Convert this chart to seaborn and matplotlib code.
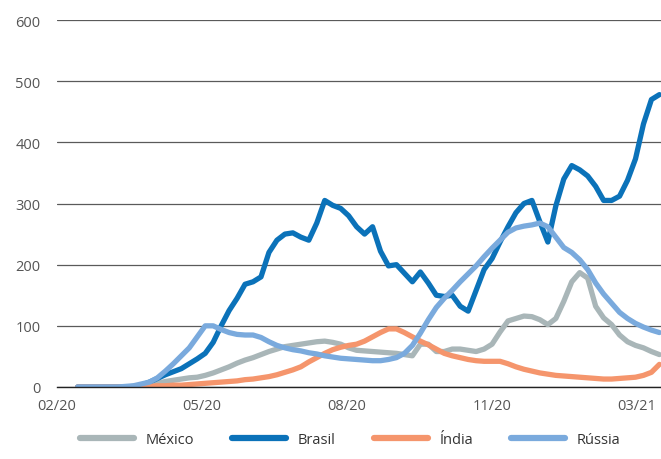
import pandas as pd
import matplotlib
matplotlib.use("Agg")
import matplotlib.pyplot as plt
import seaborn as sns

# ------------------------------
# Data (one point every 5 days)
# ------------------------------
start = "2020-02-14"
step_days = 5

mexico = [0, 0, 0, 0, 0, 0, 0, 0, 1, 3, 6, 9, 11, 13, 15, 16, 19, 23, 28, 33,
          39, 44, 48, 53, 58, 62, 66, 68, 70, 72, 74, 75, 73, 70, 64, 60, 59, 58, 57, 56,
          55, 53, 51, 70, 70, 58, 58, 62, 62, 60, 58, 62, 70, 90, 108, 112, 116, 115, 110, 102,
          112, 140, 172, 187, 178, 132, 113, 102, 85, 74, 68, 64, 58, 53]

brasil = [0, 0, 0, 0, 0, 0, 0, 1, 3, 8, 14, 20, 25, 30, 38, 46, 55, 73, 100, 125,
          145, 168, 172, 180, 220, 240, 250, 252, 245, 240, 268, 305, 297, 292, 280, 262, 250, 262, 222, 198,
          200, 186, 172, 188, 170, 150, 148, 150, 132, 124, 158, 192, 210, 237, 262, 285, 300, 305, 270, 237,
          296, 340, 362, 355, 345, 328, 305, 305, 312, 338, 373, 430, 470, 478]

india = [0, 0, 0, 0, 0, 0, 0, 0, 1, 1, 2, 2, 3, 3, 4, 5, 6, 7, 8, 9,
         10, 12, 13, 15, 17, 20, 24, 28, 33, 41, 48, 55, 61, 65, 68, 70, 75, 82, 89, 95,
         95, 89, 82, 75, 69, 62, 55, 51, 48, 45, 43, 42, 42, 42, 38, 33, 29, 26, 23, 21,
         19, 18, 17, 16, 15, 14, 13, 13, 14, 15, 16, 19, 24, 37]

russia = [0, 0, 0, 0, 0, 0, 1, 2, 5, 8, 15, 26, 38, 51, 64, 82, 100, 100, 94, 89,
          86, 85, 85, 81, 74, 68, 64, 61, 59, 56, 54, 51, 49, 47, 46, 45, 44, 43, 43, 45,
          48, 55, 68, 88, 110, 130, 145, 158, 172, 185, 198, 213, 227, 240, 253, 260, 263, 265, 268, 262,
          245, 228, 220, 208, 192, 170, 152, 137, 122, 112, 104, 98, 93, 89]

countries = ["México", "Brasil", "Índia", "Rússia"]
colors = ["#a9b6b8", "#0b72b9", "#f5956c", "#7aaadd"]

tick_labels = ["02/20", "05/20", "08/20", "11/20", "03/21"]
tick_gap_days = 91
axis_start = pd.Timestamp("2020-02-01")

# ------------------------------
# Long-form table for seaborn
# ------------------------------
dates = pd.date_range(start, periods=len(brasil), freq=f"{step_days}D")
frames = []
for name, vals in zip(countries, [mexico, brasil, india, russia]):
    frames.append(pd.DataFrame({"date": dates, "value": vals, "country": name}))
df = pd.concat(frames, ignore_index=True)

# ------------------------------
# Plot
# ------------------------------
sns.set_style("white")
plt.rcParams["font.family"] = ["Open Sans", "DejaVu Sans"]

fig = plt.figure(figsize=(6.61, 4.60), dpi=100)
ax = fig.add_axes([57 / 661, 1 - 388 / 460, 1 - 57 / 661, (388 - 21) / 460])

sns.lineplot(data=df, x="date", y="value", hue="country", hue_order=countries,
             palette=dict(zip(countries, colors)), linewidth=3.8, ax=ax,
             legend=False, zorder=3)

ax.set_ylim(0, 600)
ax.set_yticks(range(0, 601, 100))
ax.set_xlim(axis_start, axis_start + pd.Timedelta(days=379))
ticks = [axis_start + pd.Timedelta(days=tick_gap_days * i) for i in range(len(tick_labels))]
ax.set_xticks(ticks)
ax.set_xticklabels(tick_labels)
ax.set_xlabel("")
ax.set_ylabel("")

ax.grid(axis="y", color="#5a5a5a", linewidth=0.9)
ax.grid(axis="x", visible=False)
for s in ["top", "right", "left"]:
    ax.spines[s].set_visible(False)
ax.spines["bottom"].set_color("#222222")
ax.spines["bottom"].set_linewidth(1.0)
ax.spines["bottom"].set_zorder(4)

ax.tick_params(axis="y", length=0, pad=12, labelsize=10.5, labelcolor="#555555")
ax.tick_params(axis="x", direction="in", length=5, width=1, color="#222222",
               pad=8, labelsize=10.5, labelcolor="#555555")

# legend below
handles = [plt.Line2D([], [], color=c, linewidth=4.5, solid_capstyle="round") for c in colors]
fig.legend(handles, countries, loc="center", bbox_to_anchor=(0.53, 1 - 441 / 460),
           ncol=4, frameon=False, handlelength=3.7, handletextpad=0.8,
           columnspacing=2.6, fontsize=10.5, labelcolor="#333333")

fig.savefig("out.png", dpi=100)
